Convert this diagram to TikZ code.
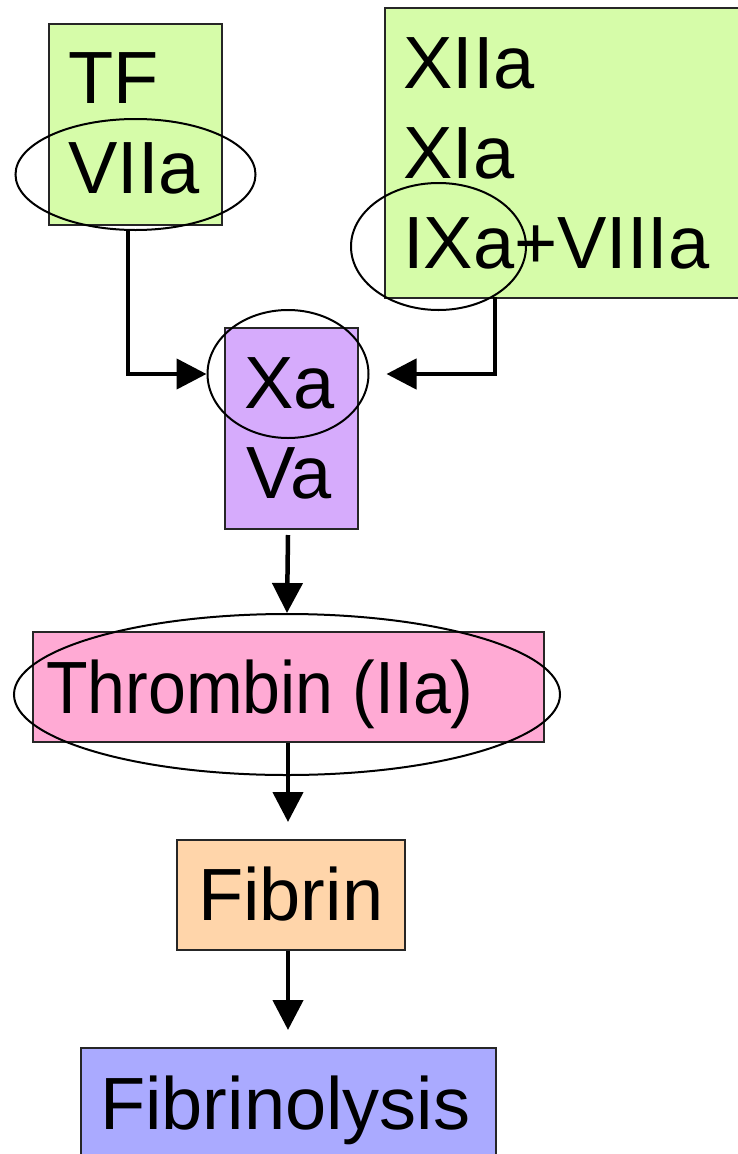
\documentclass[tikz,border=0pt]{standalone}
\usepackage{fontspec}
\setmainfont{Liberation Sans}
\usetikzlibrary{arrows.meta}
\definecolor{cgreen}{HTML}{D6FCA9}
\definecolor{cpurple}{HTML}{D6ABFC}
\definecolor{cpink}{HTML}{FFAAD4}
\definecolor{cpeach}{HTML}{FFD5AA}
\definecolor{cblue}{HTML}{AAAAFF}
\tikzset{
  box/.style={draw=black!85, line width=1.6pt, inner sep=0pt, anchor=north west},
  lbl/.style={inner sep=0pt, anchor=base west, font=\fontsize{74}{88}\selectfont},
  ring/.style={draw=black, line width=2pt, ellipse, inner sep=0pt},
  conn/.style={line width=4.5pt, -{Triangle[length=30pt,width=30pt]}},
}
\usetikzlibrary{shapes.geometric}
\begin{document}
\begin{tikzpicture}[x=1pt,y=-1pt]
\useasboundingbox (0,0) rectangle (738,1154);
\clip (0,0) rectangle (738,1154);
% boxes
\node[box, fill=cgreen, minimum width=173pt, minimum height=201pt] (tf) at (48,23) {};
\node[box, fill=cgreen, minimum width=370pt, minimum height=290pt] (xii) at (384,7) {};
\node[box, fill=cpurple, minimum width=133pt, minimum height=201pt] (xa) at (224,327) {};
\node[box, fill=cpink, minimum width=511pt, minimum height=110pt] (th) at (32,631) {};
\node[box, fill=cpeach, minimum width=228pt, minimum height=110pt] (fb) at (176,839) {};
\node[box, fill=cblue, minimum width=415pt, minimum height=130pt] (fl) at (80,1047) {};
% labels
\node[lbl] (ltf) at (68,103) {TF};
\node[lbl] (lvii) at (68,193) {VIIa};
\node[lbl] (lxii) at (403,88) {XIIa};
\node[lbl] (lxi) at (403,178) {XIa};
\node[lbl] (lix) at (403,268) {IXa+VIIIa};
\node[lbl] (lxa) at (244,408) {Xa};
\node[lbl] (lva) at (246,498) {Va};
\node[lbl] (lth) at (46,713) {\scalebox{0.92}[1]{Thrombin (IIa)}};
\node[lbl] (lfb) at (198,920) {Fibrin};
\node[lbl] (lfl) at (100,1129) {Fibrinolysis};
% ellipses
\node[ring, minimum width=240pt, minimum height=111pt] (evii) at (135.5,174.5) {};
\node[ring, minimum width=175pt, minimum height=127pt] (eix) at (438.5,246.5) {};
\node[ring, minimum width=161pt, minimum height=128pt] (exa) at (288,374) {};
\node[ring, minimum width=546pt, minimum height=161pt] (eth) at (287,694.5) {};
% connectors
\coordinate (c1) at (128,230);
\coordinate (c2) at (495,297);
\coordinate (c3) at (288,535);
\draw[conn] (c1) |- (exa.west);
\draw[conn, shorten >=17pt] (c2) |- (exa.east);
\draw[conn] (c3) -- (eth.north);
\draw[conn, shorten >=17pt] (th.south -| c3) -- (fb.north -| c3);
\draw[conn, shorten >=17pt] (fb.south -| c3) -- (fl.north -| c3);
\end{tikzpicture}
\end{document}
